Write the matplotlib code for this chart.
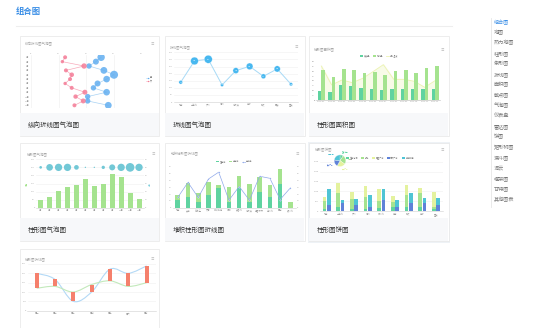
import matplotlib
matplotlib.use('Agg')
import matplotlib.pyplot as plt
from matplotlib.patches import Rectangle, PathPatch
from matplotlib.path import Path
from matplotlib.lines import Line2D
import numpy as np

plt.rcParams['font.family'] = ['Noto Sans CJK SC', 'DejaVu Sans']

W, H = 553, 328

page_title = '组合图'
menu_items = ['组合图', '地图', '热力地图', '柱形图', '条形图', '折线图', '面积图', '散点图', '气泡图',
              '仪表盘', '雷达图', '饼图', '矩形树图', '漏斗图', '词云', '框架图', '甘特图', '其他图表']
card_names = ['纵向折线图气泡图', '折线图气泡图', '柱形图面积图',
              '柱形图气泡图', '堆积柱形图折线图', '柱形图饼图', '柱形图折线图']

# chart 1: vertical line + bubbles
c1_cats = ['1月', '2月', '3月', '4月', '5月', '6月', '7月', '8月', '9月', '10月', '11月', '12月']
c1_a = [12.4, 11.4, 19.3, 12.7, 14.8, 14.2, 12.4, 14.8, 19.6, 16.2, 19.0, 15.8]
c1_a_size = [4.0, 3.4, 5.4, 4.0, 4.6, 4.0, 3.4, 4.0, 5.0, 4.4, 5.0, 4.0]
c1_b = [25.5, 23.6, 21.1, 26.5, 30.2, 27.5, 24.2, 22.7, 27.5, 20.6, 20.6, 28.1]
c1_b_size = [7.4, 6.0, 5.4, 6.8, 8.0, 6.6, 6.0, 5.4, 6.6, 5.4, 5.4, 6.8]
c1_series = ['男', '女']

# chart 2: line + bubbles
c2_cats = ['北京', '上海市', '广州', '深圳', '哈尔滨', '成都', '武汉', '西安', '重庆']
c2_vals = [139, 289, 301, 120, 221, 251, 181, 233, 125]

# chart 3: bars + area
c3_cats = ['2013-%02d' % m for m in range(1, 13)]
c3_dark = [19, 16, 31, 29, 25, 24, 21, 22, 24, 22, 24, 23]
c3_light = [63, 47, 64, 62, 56, 58, 52, 60, 63, 57, 66, 72]
c3_area = [35.5, 15.7, 20.9, 18.1, 22.6, 29.6, 36.9, 21.6, 21.6, 19.5, 13.2, 20.2]
c3_series = ['蒸发量', '降水量', '平均温度']

# chart 4: bars + bubble row
c4_cats = ['1月', '2月', '3月', '4月', '5月', '6月', '7月', '8月', '9月', '10月', '11月', '12月']
c4_bars = [48, 66, 103, 126, 143, 176, 132, 147, 211, 190, 93, 52]
c4_rate = [8, 20, 22, 22, 14, 4, 4, 10, 18, 22, 26, 22]

# chart 5: stacked bars + line
c5_cats = ['北京', '天津', '石家庄', '太原', '呼和浩特', '沈阳', '长春市', '哈尔滨',
           '乌鲁木齐', '兰州市', '西宁', '银川市']
c5_a = [12, 15, 9, 19, 29, 9, 29, 9, 23, 15, 34, 0]
c5_b = [6, 21, 12, 18, 4, 21, 18, 25, 22, 18, 22, 9]
c5_line = [15, 37, 15, 42, 52, 11, 31, 11, 46, 43, 12, 29]
c5_series = ['已完成', '未完成', '完成率']

# chart 6: grouped stacked bars + pie
c6_cats = ['北京', '上海市', '广州', '深圳', '杭州市', '南京', '武汉', '成都', '重庆']
c6_s1 = [117, 235, 117, 117, 151, 235, 235, 235, 117]
c6_s2 = [420, 671, 503, 621, 386, 252, 587, 671, 117]
c6_s3 = [168, 503, 336, 537, 570, 285, 503, 252, 755]
c6_s4 = [319, 403, 319, 235, 570, 235, 403, 403, 319]
c6_s5 = [789, 168, 285, 587, 537, 336, 503, 252, 369]
c6_series = ['直接访问', '邮件', '联盟广告', '视频广告', '搜索引擎']

# chart 7: floating bars between two smooth lines
c7_cats = ['周一', '周二', '周三', '周四', '周五', '周六', '周日']
c7_blue = [400, 335, 100, 200, 445, 400, 480]
c7_green = [240, 260, 200, 280, 320, 260, 300]

fig = plt.figure(figsize=(W / 100, H / 100), dpi=100)
fig.patch.set_facecolor('white')


def axes_px(x0, y0, x1, y1):
    ax = fig.add_axes([x0 / W, 1 - y1 / H, (x1 - x0) / W, (y1 - y0) / H])
    ax.set_facecolor('none')
    return ax


def rect_px(x0, y0, x1, y1, **kw):
    fig.patches.append(Rectangle((x0 / W, 1 - y1 / H), (x1 - x0) / W, (y1 - y0) / H,
                                 transform=fig.transFigure, zorder=-5, **kw))


def text_px(x, y, s, **kw):
    fig.text(x / W, 1 - y / H, s, **kw)


def card(x0, y0, x1, y1, caption, cap_top=None, shadow=False):
    if shadow:
        rect_px(x0 - 1.5, y0 - 1.5, x1 + 1.5, y1 + 1.5, facecolor='#eef2f6', edgecolor='none')
    rect_px(x0, y0, x1, y1, facecolor='white', edgecolor='#e6e6e6', lw=0.5)
    if cap_top is not None:
        rect_px(x0 + 0.4, cap_top, x1 - 0.4, y1 - 0.4, facecolor='#f7f8fa', edgecolor='none')
        text_px(x0 + 8, (cap_top + y1) / 2, caption, fontsize=4.7, color='#333333', va='center')


def chart_title(x, y, s, icon_x):
    text_px(x, y, s, fontsize=2.5, color='#aaaaaa', va='center')
    text_px(icon_x, y, '≡', fontsize=2.6, color='#bbbbbb', va='center', ha='center')


def mini(ax, grid_y=True, base=True):
    for s in ax.spines.values():
        s.set_visible(False)
    if base:
        ax.spines['bottom'].set_visible(True)
        ax.spines['bottom'].set_color('#d0d0d0')
        ax.spines['bottom'].set_linewidth(0.4)
    ax.tick_params(labelsize=1.6, length=0, pad=1, colors='#a0a0a0')
    if grid_y:
        ax.grid(axis='y', color='#f0f0f0', lw=0.4)
        ax.set_axisbelow(True)


def mini_legend(ax, handles, labels, x, y, ncol):
    ax.legend(handles, labels, loc='center', bbox_to_anchor=(x / W, 1 - y / H),
              bbox_transform=fig.transFigure, ncol=ncol, fontsize=1.5, frameon=False,
              handlelength=1.4, handleheight=0.7, handletextpad=0.4, columnspacing=1.3,
              borderpad=0, labelspacing=0.4, labelcolor='#888888')


def smooth(ax, xs, ys, color, lw):
    pts = np.column_stack([xs, ys]).astype(float)
    n = len(pts)
    verts = [pts[0]]
    codes = [Path.MOVETO]
    for i in range(n - 1):
        p0 = pts[i - 1] if i > 0 else pts[i]
        p3 = pts[i + 2] if i + 2 < n else pts[i + 1]
        verts += [pts[i] + (pts[i + 1] - p0) / 6, pts[i + 1] - (p3 - pts[i]) / 6, pts[i + 1]]
        codes += [Path.CURVE4] * 3
    ax.add_patch(PathPatch(Path(verts, codes), facecolor='none', edgecolor=color, lw=lw, zorder=2))


# page frame
text_px(16, 11.7, page_title, fontsize=6, color='#3a8ee6', weight='bold', va='center')
fig.add_artist(Line2D([16 / W, 452 / W], [1 - 26 / H, 1 - 26 / H], color='#eeeeee', lw=0.8))
fig.add_artist(Line2D([490.7 / W, 490.7 / W], [1 - 18 / H, 1 - 207 / H], color='#e6e6e6', lw=0.6))
for i, item in enumerate(menu_items):
    text_px(494, 22.3 + i * 10.4, item, fontsize=3.7, va='center',
            color='#3a8ee6' if i == 0 else '#777777')

# cards
card(19.5, 36.5, 159, 136, card_names[0], 113)
card(165, 36.5, 304.5, 136, card_names[1], 113)
card(309, 36.5, 448.5, 136, card_names[2], 113)
card(19.5, 143, 159, 241, card_names[3], 218)
card(165, 143, 304.5, 241, card_names[4], 218)
card(309, 143, 448.5, 241, card_names[5], 218, shadow=True)
card(19.5, 249, 159, 340, card_names[6])

# ---- chart 1
chart_title(25, 44.3, card_names[0], 152)
ax = axes_px(31, 55.1, 141, 107.5)
rows = np.arange(len(c1_cats))
ax.plot(c1_a, rows, color='#f7aabb', lw=0.5, zorder=2)
ax.plot(c1_b, rows, color='#a9d2f3', lw=0.5, zorder=2)
ax.scatter(c1_b, rows, s=[(d * 0.72) ** 2 for d in c1_b_size], color='#62aef0',
           alpha=0.85, edgecolors='none', zorder=3)
ax.scatter(c1_a, rows, s=[(d * 0.72) ** 2 for d in c1_a_size], color='#f47c97',
           alpha=0.85, edgecolors='none', zorder=3)
ax.set_xlim(0, 40)
ax.set_ylim(len(c1_cats) - 0.5, -0.5)
ax.xaxis.tick_top()
ax.set_xticks([0, 10, 20, 30, 40])
ax.set_yticks(rows, c1_cats)
mini(ax, grid_y=False, base=False)
ax.grid(axis='x', color='#eeeeee', lw=0.4)
leg1 = [Line2D([], [], color='#a9d2f3', lw=0.4, marker='o', ms=1.0, mfc='#62aef0', mec='none'),
        Line2D([], [], color='#f7aabb', lw=0.4, marker='o', ms=1.0, mfc='#f47c97', mec='none')]
mini_legend(ax, leg1, c1_series, 149, 79, 1)

# ---- chart 2
chart_title(170, 47, card_names[1], 296.7)
ax = axes_px(173.8, 52.3, 297.9, 102)
xs = np.arange(len(c2_cats))
ax.plot(xs, c2_vals, color='#a8daf6', lw=0.7, zorder=2)
ax.scatter(xs, c2_vals, s=[(v / 37.5 * 0.72) ** 2 for v in c2_vals], color='#48b8f0',
           edgecolors='white', linewidths=0.2, zorder=3)
for x, v in zip(xs, c2_vals):
    ax.text(x, v, str(v), fontsize=1.2, color='white', ha='center', va='center', zorder=4)
ax.set_xlim(-0.5, len(c2_cats) - 0.5)
ax.set_ylim(0, 350)
ax.set_yticks(range(0, 351, 50))
ax.set_xticks(xs, c2_cats)
mini(ax)

# ---- chart 3
chart_title(314, 50, card_names[2], 442.3)
ax_area = axes_px(316.1, 61.7, 440.2, 100)
xs = np.arange(len(c3_cats))
la = ax_area.plot(xs, c3_area, color='#ecf3b2', lw=0.6, zorder=2)[0]
ax_area.fill_between(xs, c3_area, color='#f8fbe8', zorder=1)
ax_area.set_ylim(0, 40)
ax_area.set_yticks(range(0, 41, 10))
ax_area.yaxis.tick_right()
mini(ax_area, grid_y=False)
ax_bar = ax_area.twinx()
ax_bar.set_facecolor('none')
b1 = ax_bar.bar(xs - 0.17, c3_dark, width=0.32, color='#5fd3a0', zorder=3)
b2 = ax_bar.bar(xs + 0.17, c3_light, width=0.36, color='#a5e38f', zorder=3)
ax_bar.set_ylim(0, 80)
ax_bar.set_yticks(range(0, 81, 10))
ax_bar.yaxis.tick_left()
ax_bar.set_xlim(-0.5, len(c3_cats) - 0.5)
ax_area.set_xticks(xs, c3_cats)
mini(ax_bar, grid_y=False)
mini_legend(ax_bar, [b1, b2, la], c3_series, 379, 56, 3)

# ---- chart 4
chart_title(27, 154, card_names[3], 153)
ax = axes_px(36.2, 159.3, 143.5, 207.7)
xs = np.arange(len(c4_cats))
ax.bar(xs, c4_bars, width=0.56, color='#a5e38f', zorder=3)
ax.set_ylim(0, 300)
ax.set_yticks(range(0, 301, 50))
ax.set_xticks(xs, c4_cats)
ax.set_xlim(-0.5, len(c4_cats) - 0.5)
mini(ax)
ax2 = ax.twinx()
ax2.set_facecolor('none')
ax2.scatter(xs, np.full(len(xs), 50), s=[(r / 3 * 0.72) ** 2 for r in c4_rate],
            color='#72c8d6', edgecolors='none', zorder=4)
ax2.set_ylim(0, 60)
ax2.set_yticks(range(0, 61, 10))
mini(ax2, grid_y=False, base=False)
text_px(27, 184.5, '销量', fontsize=1.4, color='#a5e38f', rotation=90, ha='center', va='center')
text_px(150, 184.5, '比例', fontsize=1.4, color='#7fcfdc', rotation=90, ha='center', va='center')

# ---- chart 5
chart_title(171, 154, card_names[4], 297)
ax = axes_px(172.6, 166.7, 295.5, 207.7)
xs = np.arange(len(c5_cats))
p1 = ax.bar(xs, c5_a, width=0.45, color='#5fd3a0', zorder=3)
p2 = ax.bar(xs, c5_b, width=0.45, bottom=c5_a, color='#a5e38f', zorder=3)
ax.set_ylim(0, 60)
ax.set_yticks(range(0, 61, 10))
ax.set_xticks(xs, c5_cats)
ax.set_xlim(-0.5, len(c5_cats) - 0.5)
mini(ax, grid_y=False)
ax2 = ax.twinx()
ax2.set_facecolor('none')
l5 = ax2.plot(xs, c5_line, color='#8ea8ea', lw=0.5, marker='o', ms=1.0, mfc='#8ea8ea',
              mec='white', mew=0.2, zorder=4)[0]
ax2.set_ylim(0, 60)
ax2.set_yticks(range(0, 61, 10))
mini(ax2, grid_y=False, base=False)
mini_legend(ax2, [p1, p2, l5], c5_series, 234, 161.7, 3)

# ---- chart 6
c6_colors = ['#5fd3a0', '#a5e38f', '#e4f29e', '#5f82d8', '#4fc4d5']
chart_title(315, 150, card_names[5], 442)
ax = axes_px(319.8, 161.7, 442.8, 211.3)
xs = np.arange(len(c6_cats))
left = xs - 0.15
right = xs + 0.15
h1 = ax.bar(left, c6_s1, width=0.27, color=c6_colors[0], zorder=3)
h2 = ax.bar(left, c6_s2, width=0.27, bottom=c6_s1, color=c6_colors[1], zorder=3)
h3 = ax.bar(left, c6_s3, width=0.27, bottom=np.add(c6_s1, c6_s2), color=c6_colors[2], zorder=3)
h4 = ax.bar(right, c6_s4, width=0.27, color=c6_colors[3], zorder=3)
h5 = ax.bar(right, c6_s5, width=0.27, bottom=c6_s4, color=c6_colors[4], zorder=3)
ax.set_ylim(0, 2500)
ax.set_yticks(range(0, 2501, 500))
ax.set_xticks(xs, c6_cats)
ax.set_xlim(-0.5, len(c6_cats) - 0.5)
mini(ax)
mini_legend(ax, [h1, h2, h3, h4, h5], c6_series, 380, 158, 5)
axp = axes_px(332.7, 153.4, 347.3, 168)
totals = [sum(c6_s1), sum(c6_s2), sum(c6_s3), sum(c6_s4), sum(c6_s5)]
wedges, texts = axp.pie(totals, colors=c6_colors, startangle=90, counterclock=False,
                        labels=c6_series, labeldistance=1.35,
                        wedgeprops=dict(edgecolor='white', linewidth=0.2),
                        textprops=dict(fontsize=1.2))
for t, c in zip(texts, c6_colors):
    t.set_color(c)
axp.set_aspect('equal')

# ---- chart 7
chart_title(25, 259, card_names[6], 152)
ax = axes_px(27.5, 264, 155.8, 310.7)
xs = np.arange(len(c7_cats))
lo = np.minimum(c7_blue, c7_green)
hi = np.maximum(c7_blue, c7_green)
ax.bar(xs, hi - lo, bottom=lo, width=0.22, color='#f5806c', zorder=3)
smooth(ax, xs, c7_blue, '#b3d9f6', 0.8)
smooth(ax, xs, c7_green, '#c2e9bb', 0.8)
ax.set_ylim(0, 500)
ax.set_yticks(range(0, 501, 100))
ax.set_xticks(xs, c7_cats)
ax.set_xlim(-0.5, len(c7_cats) - 0.5)
mini(ax)

fig.savefig('out.png', dpi=100, facecolor='white')
